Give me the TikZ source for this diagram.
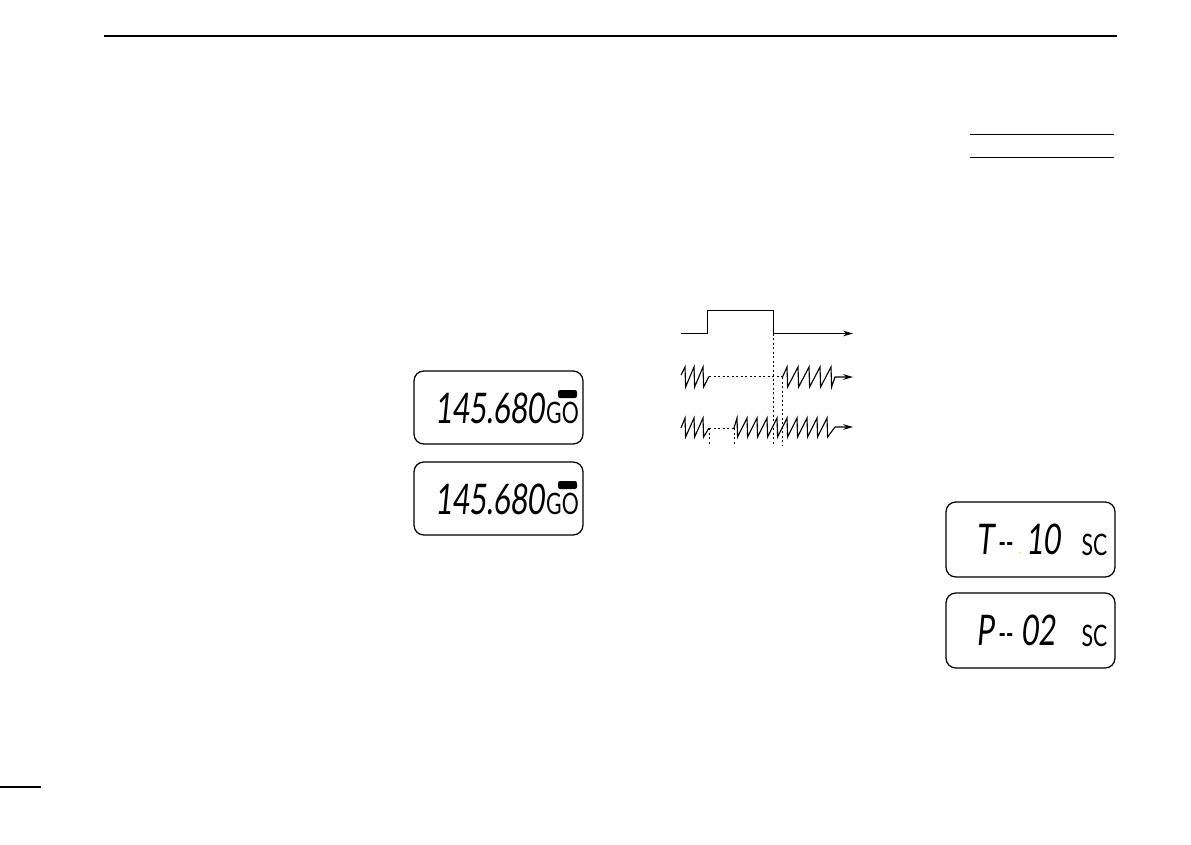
\documentclass[tikz,border=0pt]{standalone}
\usepackage{fontspec}
\usetikzlibrary{arrows.meta}
\newfontfamily\lcdfont{Lato}

\tikzset{
    lcdbox/.style={draw, line width=0.9pt, rounded corners=7pt},
    lcdbig/.style={font=\lcdfont\fontsize{30}{30}\selectfont, inner sep=0pt, xscale=0.7, xslant=0.14, transform shape},
    lcdsmall/.style={font=\lcdfont\fontsize{21}{21}\selectfont, inner sep=0pt, xscale=0.72, transform shape},
    lcddash/.style={font=\lcdfont\bfseries\fontsize{20}{20}\selectfont, inner sep=0pt, xscale=0.7, transform shape},
    rule/.style={line width=0.6pt},
    wave/.style={line width=0.8pt},
    guide/.style={line width=0.7pt, dash pattern=on 1.6pt off 1.6pt},
    tip/.style={-{Stealth[length=7pt, width=4pt]}}
}

\begin{document}
\begin{tikzpicture}[x=0.025cm, y=-0.025cm]
    \useasboundingbox (0,0) rectangle (1191,844);

    % Page rules
    \draw[line width=1.1pt] (104,36) -- (1117,36);
    \draw[rule] (970,134) -- (1114,134);
    \draw[rule] (970,157) -- (1114,157);
    \draw[line width=1.1pt] (0,787) -- (41,787);

    % Frequency displays
    \foreach \name/\y in {freqA/371, freqB/462} {
        \draw[lcdbox] (414,\y) rectangle (583,\y+73);
        \node[lcdbig] (\name num) at (491.5,\y+37) {145.680};
        \node[lcdsmall] (\name go) at (562.5,\y+41.5) {GO};
        \fill[rounded corners=1.5pt] (558,\y+19) rectangle (577,\y+27);
    }

    % Timer display
    \draw[lcdbox] (946,502) rectangle (1115,577);
    \node[lcdbig] (timerT) at (987,539) {T};
    \node[lcddash] (timerD) at (1006,548) {--};
    \node[lcdbig] (timerV) at (1045,539) {10};
    \node[lcdsmall] (timerS) at (1094.5,544.5) {SC};
    \fill[yellow!80!orange] (1020,553) circle (0.8);

    % Pause display
    \draw[lcdbox] (946,593) rectangle (1115,668);
    \node[lcdbig] (pauseP) at (987,630) {P};
    \node[lcddash] (pauseD) at (1006,639) {--};
    \node[lcdbig] (pauseV) at (1040,630) {02};
    \node[lcdsmall] (pauseS) at (1094.5,635.5) {SC};

    % Squelch line
    \draw[wave, tip] (681,333.7) -- (707.5,333.7) -- (707.5,310.5) -- (773.5,310.5) -- (773.5,333.5) -- (853,333.5);

    % Scan without timer
    \draw[wave] (681,375) \foreach \x in {685,694,703} { -- (\x,367) -- (\x+0.6,387) } -- (709,376.5);
    \draw[wave, tip] (782.5,377) \foreach \x in {787,798,809,820,831} { -- (\x,367) -- (\x+0.6,387) } -- (835,377) -- (853,377);
    \draw[guide] (709,376.5) -- (782.5,376.5);

    % Scan with timer
    \draw[wave] (681,428) \foreach \x in {685,694,703} { -- (\x,418) -- (\x+0.6,437) } -- (709,428);
    \draw[wave, tip] (734,428) \foreach \x in {737,747,757,767,777,787,797,807,817,827} { -- (\x,418) -- (\x+0.6,437) } -- (835,427) -- (853,427);
    \draw[guide] (709,428) -- (734,428);

    % Guides
    \draw[guide] (709,428) -- (709,445);
    \draw[guide] (734,428) -- (734,445);
    \draw[guide] (773.5,333.5) -- (773.5,446);
    \draw[guide] (782.5,377) -- (782.5,446);
\end{tikzpicture}
\end{document}
